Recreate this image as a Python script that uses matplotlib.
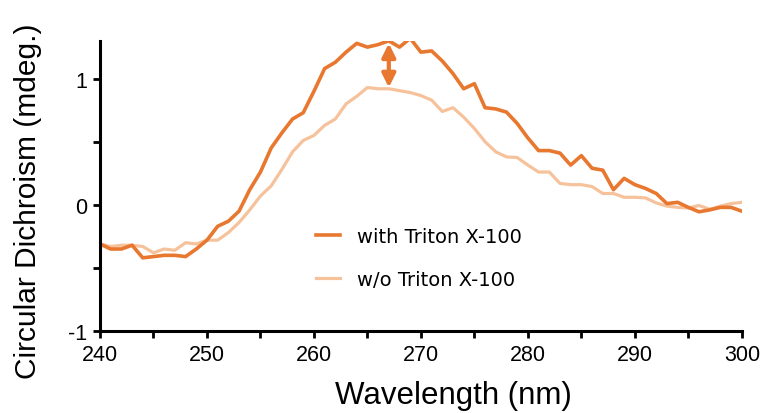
import matplotlib.pyplot as plt
import numpy as np

plt.rcParams['font.family'] = ['Liberation Sans', 'DejaVu Sans']

# wavelength (nm), 1 nm steps
wavelength = np.arange(240, 301)

with_triton = [
    -0.31, -0.35, -0.35, -0.32, -0.42, -0.41, -0.40, -0.40, -0.41, -0.35,
    -0.28, -0.17, -0.13, -0.05, 0.12, 0.26, 0.45, 0.57, 0.68, 0.73,
    0.90, 1.08, 1.13, 1.21, 1.28, 1.25, 1.27, 1.30, 1.25, 1.32,
    1.21, 1.22, 1.14, 1.04, 0.92, 0.96, 0.77, 0.76, 0.735, 0.645,
    0.53, 0.43, 0.43, 0.41, 0.315, 0.39, 0.29, 0.275, 0.12, 0.21,
    0.16, 0.13, 0.09, 0.01, 0.02, -0.02, -0.055, -0.04, -0.02, -0.02,
    -0.05,
]

without_triton = [
    -0.31, -0.33, -0.32, -0.32, -0.33, -0.38, -0.35, -0.36, -0.30, -0.31,
    -0.28, -0.28, -0.22, -0.14, -0.04, 0.07, 0.15, 0.28, 0.42, 0.51,
    0.55, 0.63, 0.68, 0.80, 0.86, 0.93, 0.92, 0.92, 0.905, 0.89,
    0.866, 0.83, 0.74, 0.77, 0.695, 0.605, 0.50, 0.42, 0.38, 0.375,
    0.315, 0.26, 0.26, 0.17, 0.16, 0.16, 0.145, 0.09, 0.09, 0.06,
    0.06, 0.055, 0.015, -0.01, -0.02, -0.025, -0.005, -0.035, -0.01, 0.01,
    0.02,
]

labels = ['with Triton X-100', 'w/o Triton X-100']
dark = '#e8782f'
light = '#f6c29c'

fig = plt.figure(figsize=(7.65, 4.14), dpi=100)
ax = fig.add_axes([0.1307, 0.198, 0.839, 0.701])

ax.plot(wavelength, without_triton, color=light, lw=2.3, label=labels[1])
ax.plot(wavelength, with_triton, color=dark, lw=2.6, label=labels[0])

# difference arrow at 267 nm
ax.annotate('', xy=(267, 1.28), xytext=(267, 0.93),
            arrowprops=dict(arrowstyle='<|-|>', color=dark, lw=3,
                            mutation_scale=20, shrinkA=0, shrinkB=0))

ax.set_xlim(240, 300)
ax.set_ylim(-1, 1.3)
ax.set_xticks(np.arange(240, 301, 10))
ax.set_xticks(np.arange(245, 300, 10), minor=True)
ax.set_yticks([-1, 0, 1])
ax.set_yticklabels(['-1', '0', '1'])
ax.set_yticks([-0.5, 0.5], minor=True)

for s in ['top', 'right']:
    ax.spines[s].set_visible(False)
for s in ['left', 'bottom']:
    ax.spines[s].set_linewidth(2.2)
ax.tick_params(which='both', direction='out', width=2, length=5, labelsize=15.5, pad=4)

ax.set_xlabel('Wavelength (nm)', fontsize=22.5)
ax.xaxis.set_label_coords(0.55, -0.17)
ax.set_ylabel('Circular Dichroism (mdeg.)', fontsize=21.5)
ax.yaxis.set_label_coords(-0.09, 0.452)

h, l = ax.get_legend_handles_labels()
ax.legend(h[::-1], l[::-1], loc='upper left', bbox_to_anchor=(0.31, 0.42),
          frameon=False, prop={'family': 'DejaVu Sans', 'size': 14},
          handlelength=1.2, handletextpad=0.9, labelspacing=1.25)

plt.savefig('out.png', dpi=100)
